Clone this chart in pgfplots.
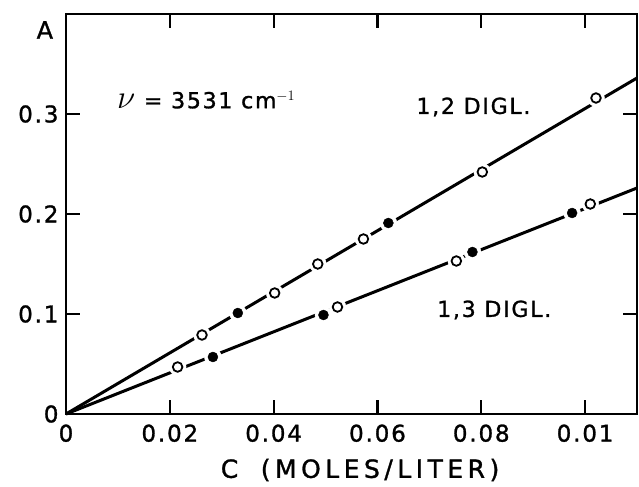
\documentclass[border=0pt]{standalone}
\usepackage{fontspec}
\setmainfont{DejaVu Sans}[LetterSpace=8, FakeBold=1.2]
\usepackage{graphicx}
\usepackage{pgfplots}
\pgfplotsset{compat=1.18}

\newcommand{\lbl}{\fontsize{23}{26}\selectfont}

\begin{document}
\begin{tikzpicture}
\begin{axis}[
  scale only axis,
  width=571pt, height=400pt,
  xmin=0, xmax=0.11, ymin=0, ymax=0.4,
  clip=false,
  axis line style={line width=2.5pt},
  tick style={line width=2.2pt, black},
  major tick length=14pt,
  xtick={0,0.02,0.04,0.06,0.08,0.1},
  xticklabels={0,0.02,0.04,0.06,0.08,0.01},
  ytick={0,0.1,0.2,0.3},
  yticklabels={0,0.1,0.2,0.3},
  ticklabel style={font=\lbl},
  xticklabel style={yshift=-7pt},
  yticklabel style={xshift=-4pt},
  xlabel={C\hspace{0.9em}(MOLES/LITER)},
  xlabel style={at={(axis description cs:0.515,-0.14)}, anchor=center,
    font=\fontsize{25}{28}\selectfont\addfontfeature{LetterSpace=18}},
]
% fitted lines
\addplot[black, line width=3pt] coordinates {(0,0) (0.11,0.336)};
\addplot[black, line width=3pt] coordinates {(0,0) (0.11,0.226)};

% white gaps around the points
\addplot[only marks, mark=*, mark size=8.5pt, mark options={fill=white, draw=white}]
  coordinates {(0.0262,0.079) (0.0331,0.101) (0.0402,0.121) (0.0485,0.150)
               (0.0573,0.175) (0.0621,0.191) (0.0802,0.242) (0.1021,0.316)
               (0.0215,0.047) (0.0283,0.057) (0.0496,0.099) (0.0523,0.107)
               (0.0752,0.153) (0.0783,0.162) (0.0975,0.201) (0.101,0.210)};

% 1,2 diglyceride
\addplot[only marks, mark=*, mark size=4.8pt, mark options={fill=white, draw=black, line width=1.8pt}]
  coordinates {(0.0262,0.079) (0.0402,0.121) (0.0485,0.150) (0.0573,0.175)
               (0.0802,0.242) (0.1021,0.316)};
\addplot[only marks, mark=*, mark size=5pt, mark options={fill=black, draw=black}]
  coordinates {(0.0331,0.101) (0.0621,0.191)};

% 1,3 diglyceride
\addplot[only marks, mark=*, mark size=4.8pt, mark options={fill=white, draw=black, line width=1.8pt}]
  coordinates {(0.0215,0.047) (0.0523,0.107) (0.0752,0.153) (0.101,0.210)};
\addplot[only marks, mark=*, mark size=5pt, mark options={fill=black, draw=black}]
  coordinates {(0.0283,0.057) (0.0496,0.099) (0.0783,0.162) (0.0975,0.201)};

\node[font=\fontsize{24}{26}\selectfont] at (axis description cs:-0.037,0.96) {A};
\node[font=\fontsize{22}{26}\selectfont] at (axis cs:0.027,0.314)
  {\scalebox{1.6}{$\nu$} = 3531 cm$^{-1}$};
\node[font=\fontsize{22}{26}\selectfont] at (axis cs:0.0785,0.307) {1,2 DIGL.};
\node[font=\fontsize{22}{26}\selectfont] at (axis cs:0.0825,0.104) {1,3 DIGL.};

% page extent as in the reference
\path (axis description cs:-0.1156,-0.1825) rectangle (axis description cs:1.0035,1.035);
\end{axis}
\end{tikzpicture}
\end{document}
